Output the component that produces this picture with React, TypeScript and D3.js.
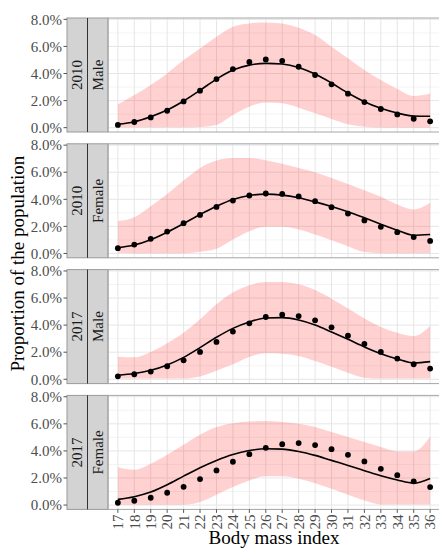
import React from "react";
import * as d3 from "d3";

// BMI categories (x axis)
const bmi = [17, 18, 19, 20, 21, 22, 23, 24, 25, 26, 27, 28, 29, 30, 31, 32, 33, 34, 35, 36];
const yTicks = [0, 2, 4, 6, 8];
const yMinor = [1, 3, 5, 7];

// 2010 Male (values in %)
const obs2010Male = [0.2, 0.42, 0.76, 1.25, 1.94, 2.73, 3.59, 4.33, 4.85, 5.04, 4.94, 4.5, 3.89, 3.2, 2.51, 1.89, 1.38, 0.98, 0.66, 0.47];
const fit2010Male = [0.25, 0.44, 0.81, 1.3, 1.97, 2.76, 3.59, 4.26, 4.62, 4.75, 4.7, 4.45, 3.96, 3.3, 2.56, 1.92, 1.43, 1.08, 0.86, 0.84];
const lo2010Male = [0.03, 0.03, 0.03, 0.03, 0.03, 0.05, 0.2, 0.93, 1.55, 1.85, 1.8, 1.48, 1.06, 0.64, 0.25, 0.07, 0.02, 0.02, 0.02, 0.02];
const hi2010Male = [1.72, 2.41, 3.15, 4.01, 4.99, 5.85, 6.72, 7.45, 7.7, 7.77, 7.7, 7.38, 6.84, 5.98, 5.12, 4.26, 3.52, 2.85, 2.34, 2.53];

// 2010 Female
const obs2010Female = [0.39, 0.66, 1.08, 1.62, 2.24, 2.85, 3.44, 3.91, 4.28, 4.43, 4.4, 4.21, 3.86, 3.42, 2.95, 2.44, 1.97, 1.57, 1.21, 0.93];
const fit2010Female = [0.42, 0.62, 1.01, 1.57, 2.21, 2.88, 3.49, 3.99, 4.28, 4.38, 4.31, 4.11, 3.81, 3.47, 3.08, 2.63, 2.16, 1.72, 1.35, 1.4];
const lo2010Female = [0.05, 0.02, 0.02, 0.02, 0.02, 0.12, 0.34, 1.03, 1.65, 1.97, 1.97, 1.77, 1.4, 0.98, 0.54, 0.1, 0.02, 0.02, 0.02, 0.02];
const hi2010Female = [2.39, 2.68, 3.49, 4.4, 5.39, 6.32, 6.86, 7.06, 7.06, 6.89, 6.62, 6.32, 6.0, 5.58, 5.14, 4.67, 4.18, 3.62, 3.25, 3.74];

// 2017 Male
const obs2017Male = [0.22, 0.37, 0.57, 0.96, 1.4, 2.02, 2.76, 3.52, 4.13, 4.6, 4.77, 4.67, 4.35, 3.84, 3.22, 2.61, 2.02, 1.53, 1.11, 0.79];
const fit2017Male = [0.3, 0.42, 0.66, 1.06, 1.62, 2.34, 3.1, 3.76, 4.23, 4.53, 4.55, 4.38, 4.01, 3.49, 2.95, 2.39, 1.89, 1.5, 1.21, 1.3];
const lo2017Male = [0.05, 0.05, 0.05, 0.05, 0.05, 0.2, 0.62, 1.1, 1.65, 1.92, 1.89, 1.72, 1.35, 0.93, 0.49, 0.12, 0.05, 0.05, 0.05, 0.05];
const hi2017Male = [1.67, 1.62, 2.02, 2.66, 3.44, 4.43, 5.54, 6.4, 6.94, 7.18, 7.18, 7.01, 6.59, 5.95, 5.22, 4.48, 3.86, 3.44, 3.2, 3.94];

// 2017 Female
const obs2017Female = [0.17, 0.32, 0.54, 0.91, 1.35, 1.92, 2.56, 3.2, 3.76, 4.23, 4.5, 4.58, 4.43, 4.13, 3.71, 3.22, 2.68, 2.21, 1.75, 1.33];
const fit2017Female = [0.42, 0.62, 0.96, 1.5, 2.14, 2.76, 3.3, 3.74, 4.03, 4.16, 4.13, 3.96, 3.67, 3.3, 2.93, 2.53, 2.16, 1.85, 1.62, 1.97];
const lo2017Female = [0.02, 0.02, 0.02, 0.02, 0.02, 0.22, 0.76, 1.33, 1.82, 2.12, 2.12, 1.94, 1.62, 1.21, 0.76, 0.34, 0.05, 0.05, 0.05, 0.05];
const hi2017Female = [2.8, 2.61, 3.05, 3.71, 4.45, 5.19, 5.76, 6.05, 6.17, 6.2, 6.13, 6.0, 5.76, 5.39, 5.02, 4.65, 4.28, 3.96, 3.96, 5.07];

const panels = [
  { year: "2010", sex: "Male", obs: obs2010Male, fit: fit2010Male, lo: lo2010Male, hi: hi2010Male },
  { year: "2010", sex: "Female", obs: obs2010Female, fit: fit2010Female, lo: lo2010Female, hi: hi2010Female },
  { year: "2017", sex: "Male", obs: obs2017Male, fit: fit2017Male, lo: lo2017Male, hi: hi2017Male },
  { year: "2017", sex: "Female", obs: obs2017Female, fit: fit2017Female, lo: lo2017Female, hi: hi2017Female },
];

const W = 439;
const H = 548;
const stripLeft = 67;
const stripMid = 87.5;
const plotLeft = 108;
const plotRight = 440;
const panelTop0 = 18;
const panelH = 114;
const panelStep = 125.8;
const font = "Liberation Serif, DejaVu Serif, serif";

const x = d3.scalePoint<number>().domain(bmi).range([plotLeft, plotRight]).padding(0.6);

const Panel = ({ p, top, last }: { p: typeof panels[0]; top: number; last: boolean }) => {
  const y = d3.scaleLinear().domain([-0.32, 8.1]).range([top + panelH, top]);
  const rows = bmi.map((b, i) => ({ b, obs: p.obs[i], fit: p.fit[i], lo: p.lo[i], hi: p.hi[i] }));
  const area = d3.area<typeof rows[0]>()
    .x(d => x(d.b)!)
    .y0(d => y(d.lo))
    .y1(d => y(d.hi))
    .curve(d3.curveMonotoneX);
  const line = d3.line<typeof rows[0]>()
    .x(d => x(d.b)!)
    .y(d => y(d.fit))
    .curve(d3.curveMonotoneX);
  const midY = top + panelH / 2;

  return (
    <g>
      {/* grid */}
      {yMinor.map(t => (
        <line key={"m" + t} x1={plotLeft} x2={plotRight} y1={y(t)} y2={y(t)} stroke="#ededed" strokeWidth={0.6} />
      ))}
      {yTicks.map(t => (
        <line key={"y" + t} x1={plotLeft} x2={plotRight} y1={y(t)} y2={y(t)} stroke="#e6e6e6" strokeWidth={1} />
      ))}
      {bmi.map(b => (
        <line key={"x" + b} x1={x(b)} x2={x(b)} y1={top} y2={top + panelH} stroke="#e6e6e6" strokeWidth={1} />
      ))}

      <path d={area(rows)!} fill="#ff0000" fillOpacity={0.18} />
      <path d={line(rows)!} fill="none" stroke="#000" strokeWidth={1.6} />
      {rows.map(d => (
        <circle key={d.b} cx={x(d.b)} cy={y(d.obs)} r={2.9} fill="#000" />
      ))}

      {/* strips */}
      <rect x={stripLeft} y={top} width={plotLeft - stripLeft} height={panelH} fill="#d3d3d3" stroke="#9a9a9a" strokeWidth={1} />
      <line x1={stripMid} x2={stripMid} y1={top} y2={top + panelH} stroke="#333" strokeWidth={1} />
      <text transform={`translate(${(stripLeft + stripMid) / 2 + 5},${midY}) rotate(-90)`} textAnchor="middle"
        fontFamily={font} fontSize={15} fill="#1a1a1a">{p.year}</text>
      <text transform={`translate(${(stripMid + plotLeft) / 2 + 5},${midY}) rotate(-90)`} textAnchor="middle"
        fontFamily={font} fontSize={15} fill="#1a1a1a">{p.sex}</text>

      {/* panel border */}
      <rect x={plotLeft} y={top} width={plotRight - plotLeft} height={panelH} fill="none" stroke="#a6a6a6" strokeWidth={1} />

      {/* y axis */}
      {yTicks.map(t => (
        <g key={"t" + t}>
          <line x1={stripLeft - 3.5} x2={stripLeft} y1={y(t)} y2={y(t)} stroke="#555" strokeWidth={1} />
          <text x={stripLeft - 5} y={y(t)} dy="0.35em" textAnchor="end" fontFamily={font} fontSize={15} fill="#4d4d4d">
            {d3.format(".1f")(t) + "%"}
          </text>
        </g>
      ))}

      {/* x axis on last panel */}
      {last && bmi.map(b => (
        <g key={"xt" + b}>
          <line x1={x(b)} x2={x(b)} y1={top + panelH} y2={top + panelH + 3.5} stroke="#555" strokeWidth={1} />
          <text transform={`translate(${x(b)},${top + panelH + 5}) rotate(-90)`} dy="0.35em" textAnchor="end"
            fontFamily={font} fontSize={15} fill="#4d4d4d">{b}</text>
        </g>
      ))}
    </g>
  );
};

export default function App() {
  const bottom = panelTop0 + 3 * panelStep + panelH;
  return (
    <svg width={W} height={H} style={{ position: "absolute", left: 0, top: 0, background: "#fff" }}>
      {panels.map((p, i) => (
        <Panel key={i} p={p} top={panelTop0 + i * panelStep} last={i === panels.length - 1} />
      ))}
      <text transform={`translate(24,${(panelTop0 + bottom) / 2}) rotate(-90)`} textAnchor="middle"
        fontFamily={font} fontSize={19} fill="#000">Proportion of the population</text>
      <text x={(plotLeft + plotRight) / 2} y={544} textAnchor="middle" fontFamily={font} fontSize={19} fill="#000">
        Body mass index
      </text>
    </svg>
  );
}
